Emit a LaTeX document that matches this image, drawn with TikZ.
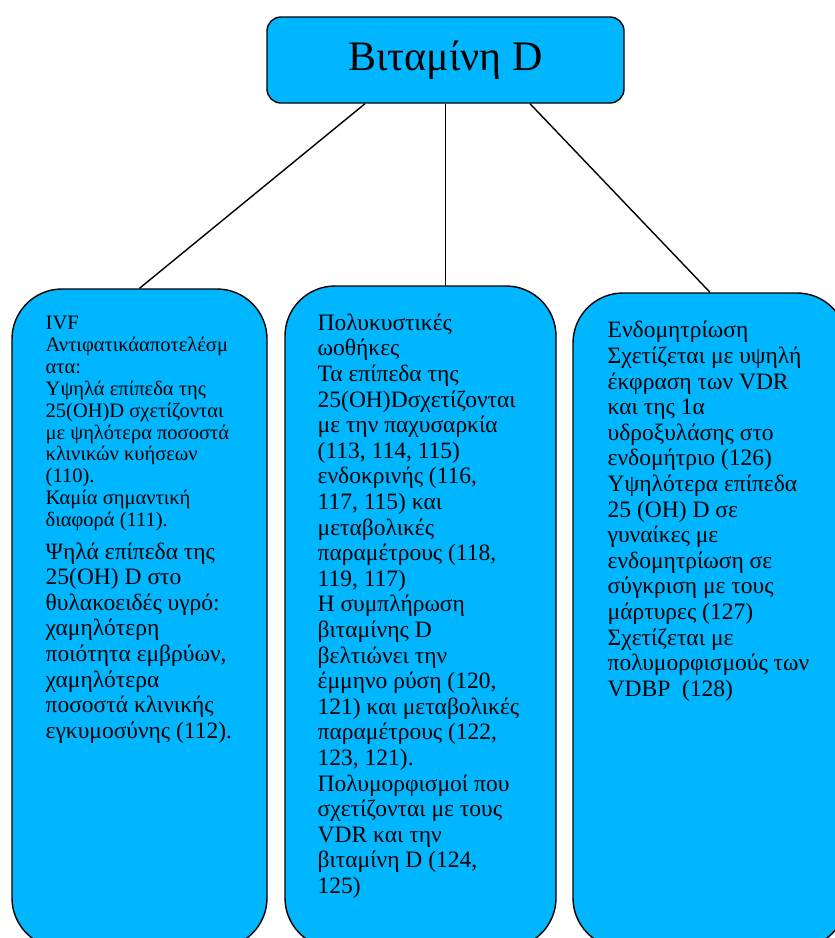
\documentclass[tikz,border=0pt]{standalone}
\usepackage{fontspec}
\setmainfont{Liberation Serif}
\definecolor{kasten}{RGB}{0,182,255}
\def\klein{\fontsize{20.5}{21.9}\selectfont}
\def\gross{\fontsize{23.5}{25.6}\selectfont}
\begin{document}
\begin{tikzpicture}[x=1pt,y=-1pt,line width=1.4pt,
	titel/.style={draw,fill=kasten,rounded corners=14pt,minimum width=357pt,minimum height=86pt,font=\fontsize{42}{48}\selectfont},
	spalte/.style={draw,fill=kasten,rounded corners=50pt},
	inhalt/.style={anchor=north west,align=left,inner sep=0pt}]
\useasboundingbox (0,0) rectangle (835,938);
\node[titel] (vit) at (445.5,60) {Βιταμίνη D};
\node[spalte,minimum width=255pt,minimum height=659pt] (ivf) at (139.5,618.5) {};
\node[spalte,minimum width=271pt,minimum height=662pt] (pco) at (420.5,617) {};
\node[spalte,minimum width=274pt,minimum height=655pt] (endo) at (710,620.5) {};
\draw ([xshift=-80.5pt]vit.south) -- (ivf.north);
\draw (vit.south) -- (vit.south |- pco.north);
\draw ([xshift=84.5pt]vit.south) -- (endo.north);
\node[inhalt,font=\klein] (ivftext) at (45,315.4) {IVF\\
	Αντιφατικάαποτελέσμ\\
	ατα:\\
	Υψηλά επίπεδα της\\
	25(OH)D σχετίζονται\\
	με ψηλότερα ποσοστά\\
	κλινικών κυήσεων\\
	(110).\\
	Καμία σημαντική\\
	διαφορά (111).};
\node[inhalt,font=\gross] (ivfmehr) at (45,541.8) {Ψηλά επίπεδα της\\
	25(OH) D στο\\
	θυλακοειδές υγρό:\\
	χαμηλότερη\\
	ποιότητα εμβρύων,\\
	χαμηλότερα\\
	ποσοστά κλινικής\\
	εγκυμοσύνης (112).};
\node[inhalt,font=\gross] (pcotext) at (317,313) {Πολυκυστικές\\
	ωοθήκες\\
	Τα επίπεδα της\\
	25(OH)Dσχετίζονται\\
	με την παχυσαρκία\\
	(113, 114, 115)\\
	ενδοκρινής (116,\\
	117, 115) και\\
	μεταβολικές\\
	παραμέτρους (118,\\
	119, 117)\\
	Η συμπλήρωση\\
	βιταμίνης D\\
	βελτιώνει την\\
	έμμηνο ρύση (120,\\
	121) και μεταβολικές\\
	παραμέτρους (122,\\
	123, 121).\\
	Πολυμορφισμοί που\\
	σχετίζονται με τους\\
	VDR και την\\
	βιταμίνη D (124,\\
	125)};
\node[inhalt,font=\gross] (endotext) at (607,320.6) {Ενδομητρίωση\\
	Σχετίζεται με υψηλή\\
	έκφραση των VDR\\
	και της 1α\\
	υδροξυλάσης στο\\
	ενδομήτριο (126)\\
	Υψηλότερα επίπεδα\\
	25 (OH) D σε\\
	γυναίκες με\\
	ενδομητρίωση σε\\
	σύγκριση με τους\\
	μάρτυρες (127)\\
	Σχετίζεται με\\
	πολυμορφισμούς των\\
	VDBP\ \ (128)};
\end{tikzpicture}
\end{document}
